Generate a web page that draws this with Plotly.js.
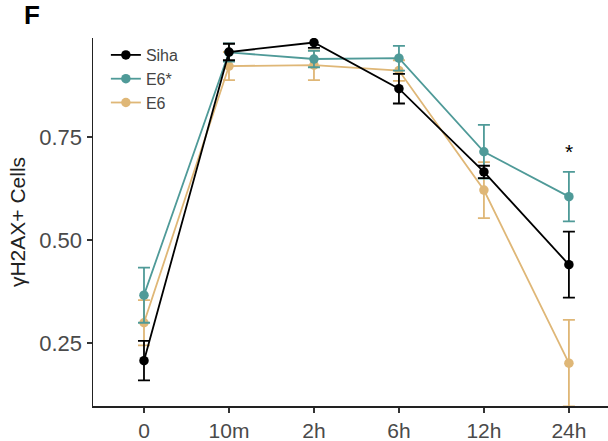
<!DOCTYPE html>
<html>
<head>
<meta charset="utf-8">
<script src="https://cdn.plot.ly/plotly-3.0.1.min.js"></script>
<style>html,body{margin:0;padding:0;background:#fff;}#chart{width:608px;height:441px;}</style>
</head>
<body>
<div id="chart"></div>
<script>
const timepoints = ["0", "10m", "2h", "6h", "12h", "24h"];
const sihaMean = [0.207, 0.956, 0.979, 0.867, 0.665, 0.440];
const sihaErr  = [0.048, 0.020, 0.013, 0.036, 0.015, 0.080];
const e6starMean = [0.366, 0.955, 0.939, 0.941, 0.714, 0.605];
const e6starErr  = [0.067, 0.022, 0.020, 0.030, 0.065, 0.060];
const e6Mean = [0.299, 0.922, 0.924, 0.911, 0.621, 0.201];
const e6Err  = [0.055, 0.034, 0.036, 0.025, 0.068, 0.105];
const seriesNames = ["Siha", "E6*", "E6"];
const seriesColors = ["#000000", "#4f9a98", "#dfb777"];
const sigLabel = "*";
const sigIndex = 5;
const sigY = 0.714;

function mk(name, y, err, color, rank) {
  return {
    type: "scatter", mode: "lines+markers", name: name,
    x: timepoints, y: y,
    line: {color: color, width: 1.8},
    marker: {color: color, size: 9.5, symbol: "circle"},
    error_y: {type: "data", array: err, visible: true, color: color, thickness: 1.8, width: 6},
    legendrank: rank
  };
}
const data = [
  mk(seriesNames[2], e6Mean, e6Err, seriesColors[2], 3),
  mk(seriesNames[1], e6starMean, e6starErr, seriesColors[1], 2),
  mk(seriesNames[0], sihaMean, sihaErr, seriesColors[0], 1)
];
const layout = {
  width: 608, height: 441,
  margin: {l: 93, r: 0, t: 38, b: 35},
  paper_bgcolor: "#fff", plot_bgcolor: "#fff",
  font: {family: "Liberation Sans, Arial, sans-serif", color: "#333"},
  showlegend: true,
  legend: {x: 0.025, y: 1.0, xanchor: "left", yanchor: "top", bgcolor: "rgba(0,0,0,0)",
           font: {size: 16, color: "#444"}, itemwidth: 30, tracegroupgap: 2},
  xaxis: {
    type: "category", range: [-0.6, 5.46],
    showgrid: false, zeroline: false, showline: true, linecolor: "#222", linewidth: 1.5,
    ticks: "outside", ticklen: 5, tickcolor: "#333", tickwidth: 1.2,
    tickfont: {size: 21, color: "#4a4a4a"}
  },
  yaxis: {
    range: [0.097, 0.99],
    tickvals: [0.25, 0.5, 0.75], ticktext: ["0.25", "0.50", "0.75"],
    showgrid: false, zeroline: false, showline: true, linecolor: "#222", linewidth: 1.5,
    ticks: "outside", ticklen: 5, tickcolor: "#333", tickwidth: 1.2,
    tickfont: {size: 22, color: "#4a4a4a"},
    title: {text: "γH2AX+ Cells", font: {size: 21, color: "#222"}, standoff: 8}
  },
  annotations: [
    {text: "<b>F</b>", xref: "paper", yref: "paper", x: -0.137, y: 1.062, xanchor: "left", yanchor: "middle",
     showarrow: false, font: {size: 26, color: "#000"}},
    {text: sigLabel, xref: "x", yref: "y", x: timepoints[sigIndex], y: sigY, showarrow: false,
     font: {size: 21, color: "#000"}}
  ]
};
Plotly.newPlot("chart", data, layout, {displayModeBar: false, staticPlot: true});
</script>
</body>
</html>
